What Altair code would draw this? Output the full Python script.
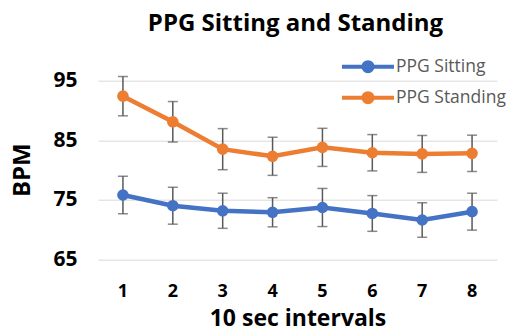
import altair as alt
import pandas as pd

intervals = [1, 2, 3, 4, 5, 6, 7, 8]
series_names = ["PPG Sitting", "PPG Standing"]
sitting_mean = [75.8, 74.0, 73.15, 72.9, 73.7, 72.7, 71.6, 73.0]
sitting_err = [3.15, 3.1, 2.95, 2.45, 3.2, 3.0, 2.9, 3.1]
standing_mean = [92.4, 88.1, 83.5, 82.3, 83.8, 82.9, 82.7, 82.8]
standing_err = [3.3, 3.4, 3.45, 3.2, 3.2, 3.05, 3.1, 3.05]
y_ticks = [65, 75, 85, 95]
colors = ["#4472C4", "#ED7D31"]

rows = []
for name, means, errs in [(series_names[0], sitting_mean, sitting_err),
                          (series_names[1], standing_mean, standing_err)]:
    for i, m, e in zip(intervals, means, errs):
        rows.append({"interval": str(i), "series": name, "bpm": m,
                     "lo": m - e, "hi": m + e})
df = pd.DataFrame(rows)

FONT = "Open Sans"

x_enc = alt.X("interval:N", sort=[str(i) for i in intervals],
              scale=alt.Scale(paddingInner=0, paddingOuter=0),
              axis=alt.Axis(title="10 sec intervals", labelAngle=0, ticks=False, tickSize=0,
                            domain=False, grid=False, labelFontSize=18, labelFontWeight="bold",
                            labelFont=FONT, labelColor="#000000", labelPadding=23,
                            titleFont=FONT, titleFontSize=23, titleFontWeight="bold",
                            titleColor="#000000", titleBaseline="alphabetic", titleY=66.5))
y_scale = alt.Scale(domain=[65, 95], nice=False, zero=False)

base = alt.Chart(df)

err_rule = base.mark_rule(color="#595959", strokeWidth=1.5, clip=False).encode(
    x=x_enc,
    y=alt.Y("lo:Q", scale=y_scale),
    y2="hi:Q",
)
cap_lo = base.mark_tick(color="#595959", thickness=1.5, size=10, orient="horizontal", clip=False).encode(
    x=x_enc, y=alt.Y("lo:Q", scale=y_scale))
cap_hi = base.mark_tick(color="#595959", thickness=1.5, size=10, orient="horizontal", clip=False).encode(
    x=x_enc, y=alt.Y("hi:Q", scale=y_scale))

legend = alt.Legend(title=None, orient="none", legendX=255, legendY=-29,
                    symbolType="M-2,0L2,0M-0.35,0A0.35,0.35,0,1,1,0.35,0A0.35,0.35,0,1,1,-0.35,0Z",
                    symbolSize=676, symbolStrokeWidth=4, labelOffset=13,
                    labelFont=FONT, labelFontSize=17.5, labelColor="#595959",
                    labelLimit=200, rowPadding=3)

line = base.mark_line(strokeWidth=4.5).encode(
    x=x_enc,
    y=alt.Y("bpm:Q", scale=y_scale,
            axis=alt.Axis(title="BPM", values=y_ticks, ticks=False, tickSize=0, domain=False,
                          grid=True, gridColor="#D9D9D9", gridWidth=1,
                          labelFont=FONT, labelFontSize=21, labelFontWeight="bold",
                          labelColor="#000000", labelPadding=21,
                          titleFont=FONT, titleFontSize=24, titleFontWeight="bold",
                          titleColor="#000000", titleX=-76, titleY=89,
                          titleAlign="center", titleBaseline="middle", titleAngle=-90)),
    stroke=alt.Stroke("series:N", scale=alt.Scale(domain=series_names, range=colors),
                      legend=legend),
)
points = base.mark_point(filled=True, size=135, opacity=1).encode(
    x=x_enc,
    y=alt.Y("bpm:Q", scale=y_scale),
    fill=alt.Fill("series:N", scale=alt.Scale(domain=series_names, range=colors),
                  legend=legend),
)

chart = alt.layer(err_rule, cap_lo, cap_hi, line, points).properties(
    width=399, height=178.6,
    title=alt.TitleParams("PPG Sitting and Standing", font=FONT, fontSize=24,
                          fontWeight="bold", color="#000000", anchor="middle",
                          offset=16, dx=-2),
    autosize=alt.AutoSizeParams(type="none"),
    padding={"left": 90, "top": 72.7, "right": 11, "bottom": 67},
).configure_view(stroke=None)

chart.save("out.html", embed_options={"renderer": "svg", "actions": False})
